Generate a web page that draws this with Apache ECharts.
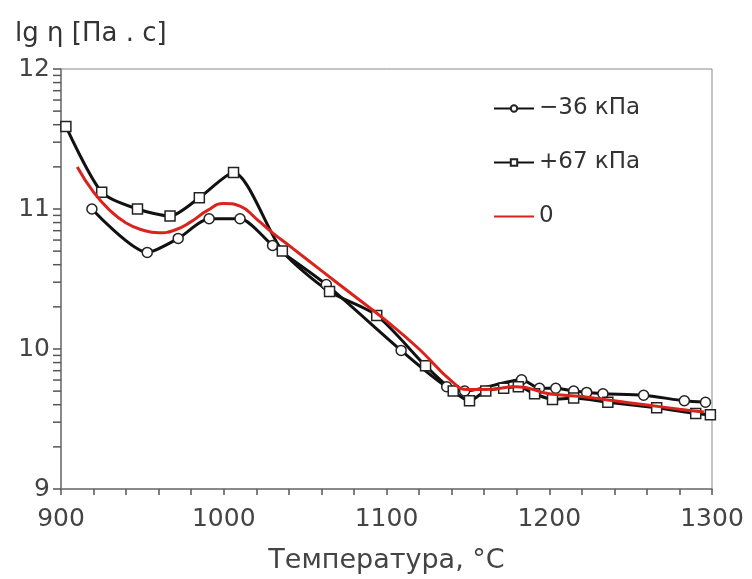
<!DOCTYPE html>
<html><head><meta charset="utf-8">
<script src="https://cdn.jsdelivr.net/npm/echarts@6/dist/echarts.min.js"></script>
<style>html,body{margin:0;padding:0;background:#fff}#c{width:752px;height:579px}</style>
</head><body><div id="c"></div>
<script>
const FONT = 'DejaVu Sans';
const seriesNames = ['\u221236 кПа', '+67 кПа', '0'];
const tempMinus36 = [919, 953, 972, 991, 1010, 1030, 1063, 1109, 1137, 1148, 1183, 1194, 1204, 1215, 1223, 1233, 1258, 1283, 1296];
const valMinus36  = [11.00, 10.69, 10.79, 10.93, 10.93, 10.74, 10.46, 9.99, 9.73, 9.70, 9.78, 9.72, 9.72, 9.70, 9.69, 9.68, 9.67, 9.63, 9.62];
const tempPlus67 = [903, 925, 947, 967, 985, 1006, 1036, 1065, 1094, 1124, 1141, 1151, 1161, 1172, 1181, 1191, 1202, 1215, 1236, 1266, 1290, 1299];
const valPlus67  = [11.59, 11.12, 11.00, 10.95, 11.08, 11.26, 10.70, 10.41, 10.24, 9.88, 9.70, 9.63, 9.70, 9.72, 9.73, 9.68, 9.64, 9.65, 9.62, 9.58, 9.54, 9.53];
const tempZero = [910, 920, 930, 940, 950, 960, 970, 980, 990, 1000, 1010, 1020, 1030, 1040, 1060, 1080, 1100, 1120, 1140, 1150, 1160, 1180, 1200, 1220, 1240, 1260, 1280, 1295];
const valZero  = [11.30, 11.12, 10.99, 10.90, 10.85, 10.83, 10.85, 10.91, 10.99, 11.04, 11.02, 10.93, 10.83, 10.74, 10.56, 10.38, 10.20, 10.00, 9.77, 9.71, 9.71, 9.73, 9.68, 9.66, 9.63, 9.60, 9.57, 9.55];
const xTicks = [900, 1000, 1100, 1200, 1300];
const yTicks = [9, 10, 11, 12];
// minor (logarithmic) tick positions on the lg axis
const yMinorTicks = [];
[9, 10, 11].forEach(d => { for (let k = 2; k <= 9; k++) yMinorTicks.push(d + Math.log10(k)); });

const zip = (a, b) => a.map((v, i) => [v, b[i]]);
const chart = echarts.init(document.getElementById('c'));
chart.setOption({
  animation: false,
  textStyle: { fontFamily: FONT },
  grid: { left: 61, right: 40, top: 69, bottom: 88, show: true, borderColor: '#8a8a8a', borderWidth: 1 },
  title: { text: 'lg η [Па . с]', left: 10, top: 16, textStyle: { fontFamily: FONT, fontSize: 26, fontWeight: 'normal', color: '#333' } },
  legend: {
    orient: 'vertical', left: 488, top: 92, itemGap: 31, itemWidth: 40, itemHeight: 8,
    textStyle: { fontFamily: FONT, fontSize: 23, color: '#333' },
    data: [seriesNames[0], seriesNames[1], { name: seriesNames[2], itemStyle: { opacity: 0 } }]
  },
  xAxis: {
    type: 'value', min: 900, max: 1300, interval: 100,
    name: 'Температура, °C', nameLocation: 'middle', nameGap: 58,
    nameTextStyle: { fontFamily: FONT, fontSize: 27, color: '#444' },
    axisLine: { lineStyle: { color: '#777', width: 1.5 } },
    axisTick: { show: true, length: 6, lineStyle: { color: '#555', width: 1.5 } },
    minorTick: { show: true, splitNumber: 5, length: 6, lineStyle: { color: '#555', width: 1.5 } },
    axisLabel: { fontFamily: FONT, fontSize: 25, color: '#444', margin: 18, formatter: v => String(v) },
    splitLine: { show: false }
  },
  yAxis: {
    type: 'value', min: 9, max: 12, interval: 1,
    axisLine: { show: true, lineStyle: { color: '#777', width: 1.5 } },
    axisTick: { show: true, length: 8, lineStyle: { color: '#555', width: 1.5 } },
    axisLabel: { fontFamily: FONT, fontSize: 25, color: '#444', margin: 11, formatter: v => String(v) },
    splitLine: { show: false }
  },
  series: [
    {
      name: seriesNames[0], type: 'line', data: zip(tempMinus36, valMinus36), smooth: 0.25,
      symbol: 'circle', symbolSize: 10, z: 3,
      lineStyle: { color: '#111', width: 3 },
      itemStyle: { color: '#fff', borderColor: '#222', borderWidth: 1.5 }
    },
    {
      name: seriesNames[1], type: 'line', data: zip(tempPlus67, valPlus67), smooth: 0.25,
      symbol: 'rect', symbolSize: 10, z: 3,
      lineStyle: { color: '#111', width: 3 },
      itemStyle: { color: '#fff', borderColor: '#222', borderWidth: 1.5 }
    },
    {
      name: seriesNames[2], type: 'line', data: zip(tempZero, valZero), smooth: 0.5,
      symbol: 'none', z: 4,
      lineStyle: { color: '#d8241c', width: 3 },
      itemStyle: { color: '#d8241c' }
    },
    {
      type: 'custom', silent: true, clip: false, z: 1,
      data: yMinorTicks.map(v => [900, v]),
      renderItem: (params, api) => {
        const p = api.coord([api.value(0), api.value(1)]);
        return { type: 'line', shape: { x1: p[0] - 8, y1: p[1], x2: p[0], y2: p[1] }, style: { stroke: '#555', lineWidth: 1.5 } };
      }
    }
  ]
});
</script></body></html>
